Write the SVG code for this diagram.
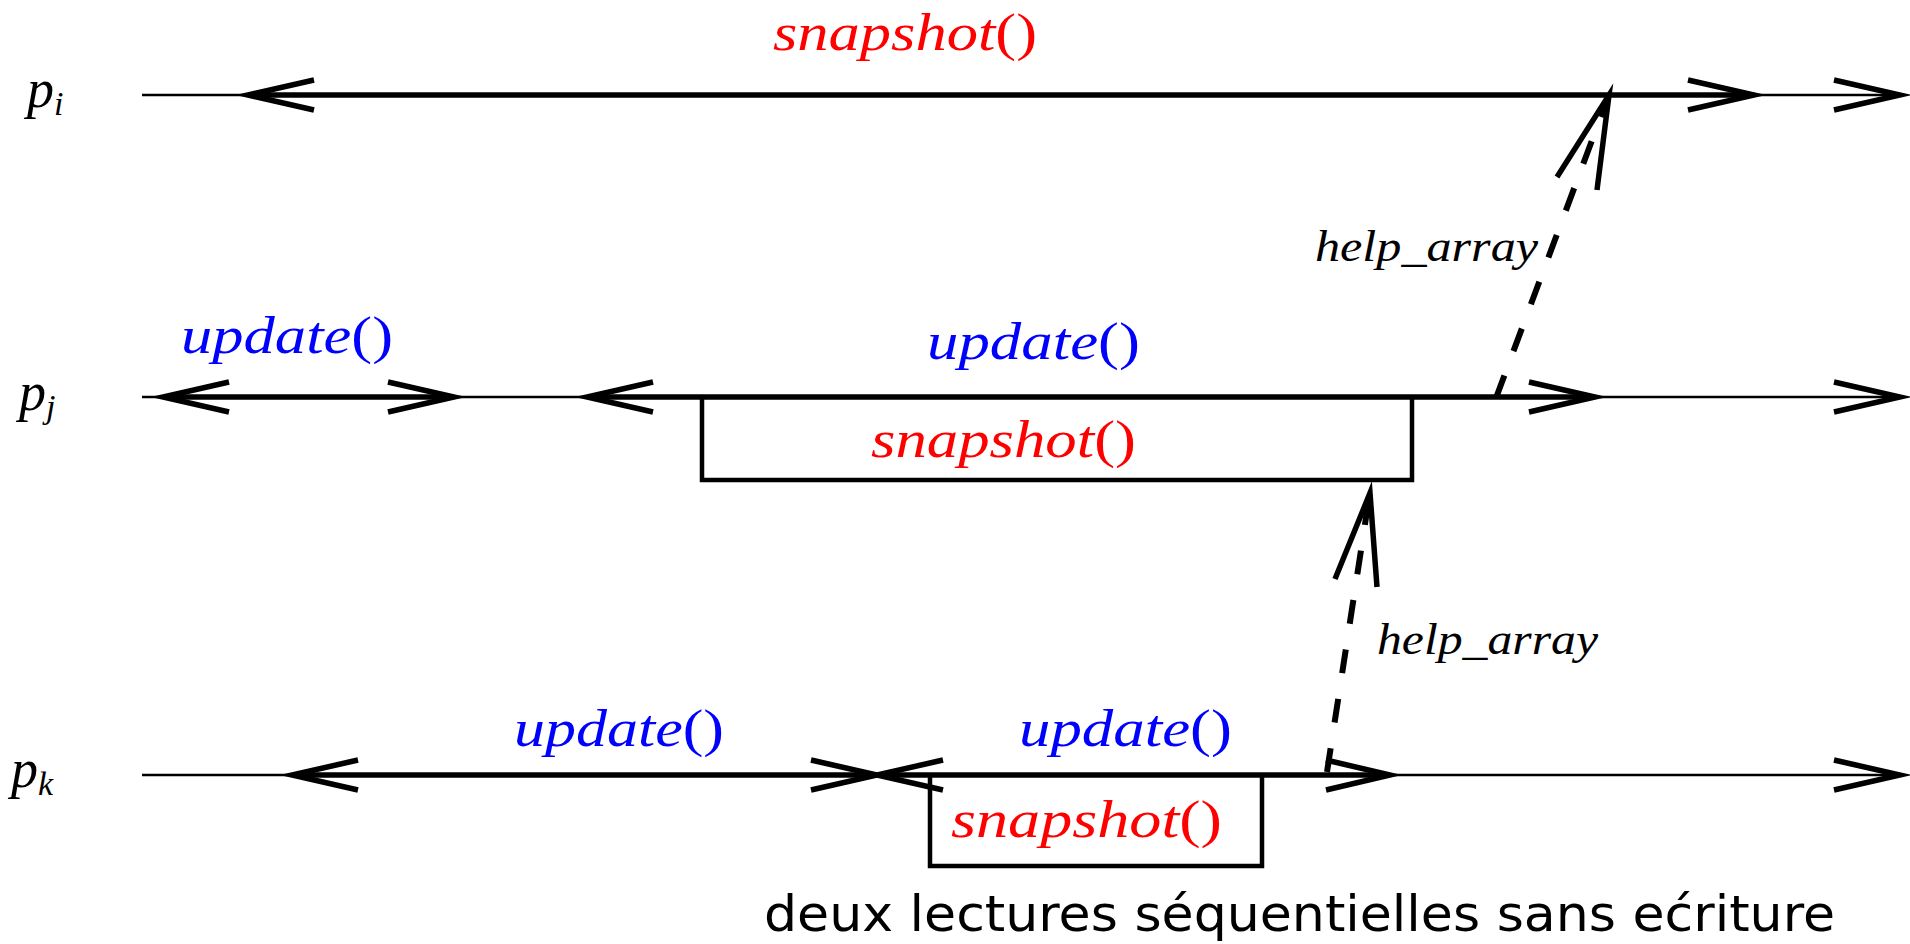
<svg xmlns="http://www.w3.org/2000/svg" width="1910" height="944" viewBox="0 0 1910 944">
  <style>
    .thin { stroke: #000; stroke-width: 2.5; fill: none; }
    .thick { stroke: #000; stroke-width: 5.5; fill: none; }
    .head { stroke: #000; stroke-width: 5.5; fill: none; stroke-linejoin: miter; stroke-miterlimit: 12; stroke-linecap: butt; }
    .box { stroke: #000; stroke-width: 4.5; fill: none; stroke-linejoin: miter; }
    .dash { stroke: #000; stroke-width: 6; fill: none; stroke-dasharray: 24 26; }
    .math { font-family: "Liberation Serif", "DejaVu Serif", serif; font-size: 52px; }
    .it { font-style: italic; }
    .red { fill: #ff0000; }
    .blue { fill: #0000ff; }
    .lbl { font-family: "Liberation Serif", "DejaVu Serif", serif; font-style: italic; font-size: 45px; fill: #000; }
    .proc { font-family: "Liberation Serif", "DejaVu Serif", serif; font-style: italic; font-size: 54px; fill: #000; }
    .sub { font-size: 34px; }
    .note { font-family: "DejaVu Sans", "Liberation Sans", sans-serif; font-size: 50px; fill: #000; }
  </style>

  <!-- process labels -->
  <g id="proc-pi"><text class="proc" x="27" y="107">p<tspan class="sub" dy="8">i</tspan></text></g>
  <g id="proc-pj"><text class="proc" x="19" y="410">p<tspan class="sub" dy="8">j</tspan></text></g>
  <g id="proc-pk"><text class="proc" x="11" y="787">p<tspan class="sub" dy="8">k</tspan></text></g>

  <!-- timelines -->
  <g id="timelines">
    <line class="thin" x1="142" y1="95" x2="1898" y2="95"/>
    <line class="thin" x1="142" y1="397" x2="1898" y2="397"/>
    <line class="thin" x1="142" y1="775" x2="1898" y2="775"/>
  </g>

  <!-- p_i : snapshot() -->
  <g id="op-pi-snapshot">
    <line class="thick" x1="250" y1="95" x2="1750" y2="95"/>
    <path class="head" d="M314,80 L248,95 L314,110"/>
    <path class="head" d="M1688,80 L1754,95 L1688,110"/>
    <text class="math red" x="773" y="50" textLength="264" lengthAdjust="spacingAndGlyphs"><tspan class="it">snapshot</tspan>()</text>
  </g>

  <!-- p_j : update() -->
  <g id="op-pj-update1">
    <line class="thick" x1="165" y1="397" x2="452" y2="397"/>
    <path class="head" d="M229,382 L163,397 L229,412"/>
    <path class="head" d="M388,382 L454,397 L388,412"/>
    <text class="math blue" x="181" y="353" textLength="212" lengthAdjust="spacingAndGlyphs"><tspan class="it">update</tspan>()</text>
  </g>

  <!-- p_j : update() containing snapshot() -->
  <g id="op-pj-update2">
    <line class="thick" x1="589" y1="397" x2="1593" y2="397"/>
    <path class="head" d="M653,382 L587,397 L653,412"/>
    <path class="head" d="M1529,382 L1595,397 L1529,412"/>
    <text class="math blue" x="927" y="359" textLength="213" lengthAdjust="spacingAndGlyphs"><tspan class="it">update</tspan>()</text>
  </g>
  <g id="op-pj-snapshot">
    <path class="box" d="M702,397 V480 H1412 V397"/>
    <text class="math red" x="871" y="457" textLength="265" lengthAdjust="spacingAndGlyphs"><tspan class="it">snapshot</tspan>()</text>
  </g>

  <!-- p_k : update() -->
  <g id="op-pk-update1">
    <line class="thick" x1="294" y1="775" x2="875" y2="775"/>
    <path class="head" d="M358,760 L292,775 L358,790"/>
    <path class="head" d="M811,760 L877,775 L811,790"/>
    <text class="math blue" x="514" y="746" textLength="210" lengthAdjust="spacingAndGlyphs"><tspan class="it">update</tspan>()</text>
  </g>

  <!-- p_k : update() containing snapshot() -->
  <g id="op-pk-update2">
    <line class="thick" x1="879" y1="775" x2="1388" y2="775"/>
    <path class="head" d="M943,760 L877,775 L943,790"/>
    <path class="head" d="M1326,760 L1390,775 L1326,790"/>
    <text class="math blue" x="1019" y="746" textLength="213" lengthAdjust="spacingAndGlyphs"><tspan class="it">update</tspan>()</text>
  </g>
  <g id="op-pk-snapshot">
    <path class="box" d="M930,775 V866 H1262 V775"/>
    <text class="math red" x="951" y="837" textLength="271" lengthAdjust="spacingAndGlyphs"><tspan class="it">snapshot</tspan>()</text>
  </g>

  <!-- end-of-timeline arrowheads -->
  <g id="timeline-ends">
    <path class="head" d="M1834,80 L1900,95 L1834,110"/>
    <path class="head" d="M1834,382 L1900,397 L1834,412"/>
    <path class="head" d="M1834,760 L1900,775 L1834,790"/>
  </g>

  <!-- help_array messages -->
  <g id="connectors">
    <line class="dash" x1="1496" y1="398" x2="1607" y2="100"/>
    <path class="head" d="M1557,177 L1609,95 L1597,190"/>
    <text class="lbl" x="1315" y="261" textLength="223" lengthAdjust="spacingAndGlyphs">help_array</text>

    <line class="dash" x1="1327" y1="772" x2="1369" y2="498"/>
    <path class="head" d="M1335,579 L1370,493 L1377,587"/>
    <text class="lbl" x="1377" y="654" textLength="221" lengthAdjust="spacingAndGlyphs">help_array</text>
  </g>

  <!-- caption -->
  <g id="caption">
    <text class="note" x="764" y="931" textLength="1071" lengthAdjust="spacingAndGlyphs">deux lectures séquentielles sans ećriture</text>
  </g>
</svg>
